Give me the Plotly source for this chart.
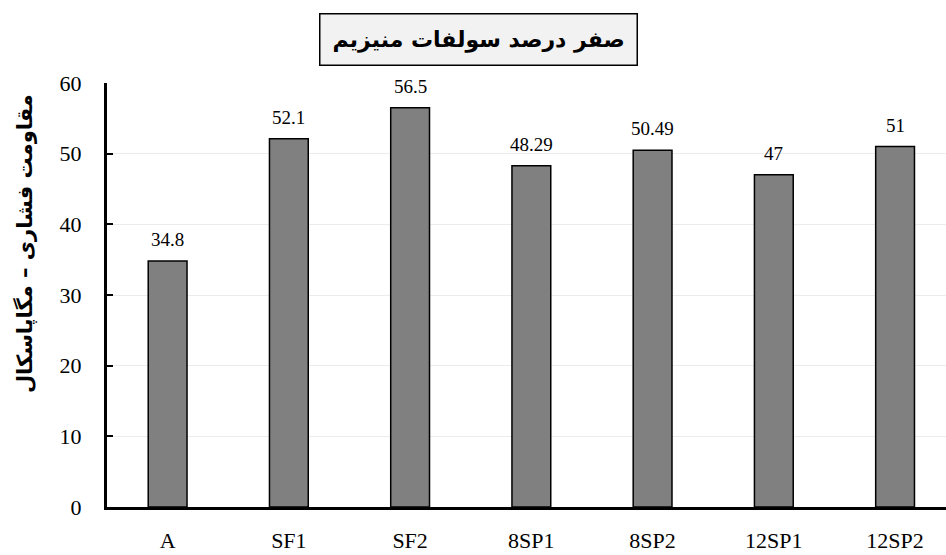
import plotly.graph_objects as go

categories = ["A", "SF1", "SF2", "8SP1", "8SP2", "12SP1", "12SP2"]
values = [34.8, 52.1, 56.5, 48.29, 50.49, 47, 51]
value_labels = ["34.8", "52.1", "56.5", "48.29", "50.49", "47", "51"]
y_ticks = [0, 10, 20, 30, 40, 50, 60]
title_text = "صفر درصد سولفات منیزیم"
y_title = "مقاومت فشاری – مگاپاسکال"

serif = "Liberation Serif, Times New Roman, serif"
arabic = "DejaVu Sans, sans-serif"

fig = go.Figure()
fig.add_trace(go.Bar(
    x=list(range(len(categories))),
    y=values,
    width=0.32,
    marker=dict(color="#808080", line=dict(color="#000000", width=1.5)),
    hoverinfo="skip",
))

for i, (v, lab) in enumerate(zip(values, value_labels)):
    fig.add_annotation(x=i, y=v, text=lab, showarrow=False, yanchor="bottom",
                       yshift=9, font=dict(family=serif, size=19, color="#000"))

fig.add_annotation(xref="paper", yref="paper", x=0.443, y=1.0, yshift=44,
                   text="<b>" + title_text + "</b>", showarrow=False,
                   font=dict(family=arabic, size=22, color="#000"),
                   bgcolor="#f2f2f2", bordercolor="#000", borderwidth=1.5,
                   borderpad=12, xanchor="center", yanchor="middle")

fig.add_annotation(xref="paper", yref="paper", x=0, xshift=-83, y=0.62,
                   text="<b>" + y_title + "</b>", showarrow=False, textangle=-90,
                   font=dict(family=arabic, size=21, color="#000"),
                   xanchor="center", yanchor="middle")

fig.update_layout(
    width=946, height=555,
    margin=dict(l=107, r=0, t=83, b=48),
    paper_bgcolor="white", plot_bgcolor="white",
    showlegend=False,
)
fig.update_xaxes(
    range=[-0.5, 6.42],
    tickmode="array", tickvals=list(range(len(categories))), ticktext=categories,
    showline=True, linecolor="#000", linewidth=3,
    showgrid=False, ticks="",
    tickfont=dict(family=serif, size=22, color="#000"),
    ticklabelstandoff=12,
)
fig.update_yaxes(
    range=[0, 60],
    tickmode="array", tickvals=y_ticks,
    showline=True, linecolor="#000", linewidth=3,
    showgrid=True, gridcolor="#ececec", gridwidth=1,
    ticks="inside", ticklen=6, tickwidth=2, tickcolor="#000",
    tickfont=dict(family=serif, size=22, color="#000"),
    ticklabelstandoff=18,
    zeroline=False,
)

fig.write_html("out.html",
               config={"displayModeBar": False},
               post_script="document.body.style.margin='0';document.body.style.overflow='hidden';")
